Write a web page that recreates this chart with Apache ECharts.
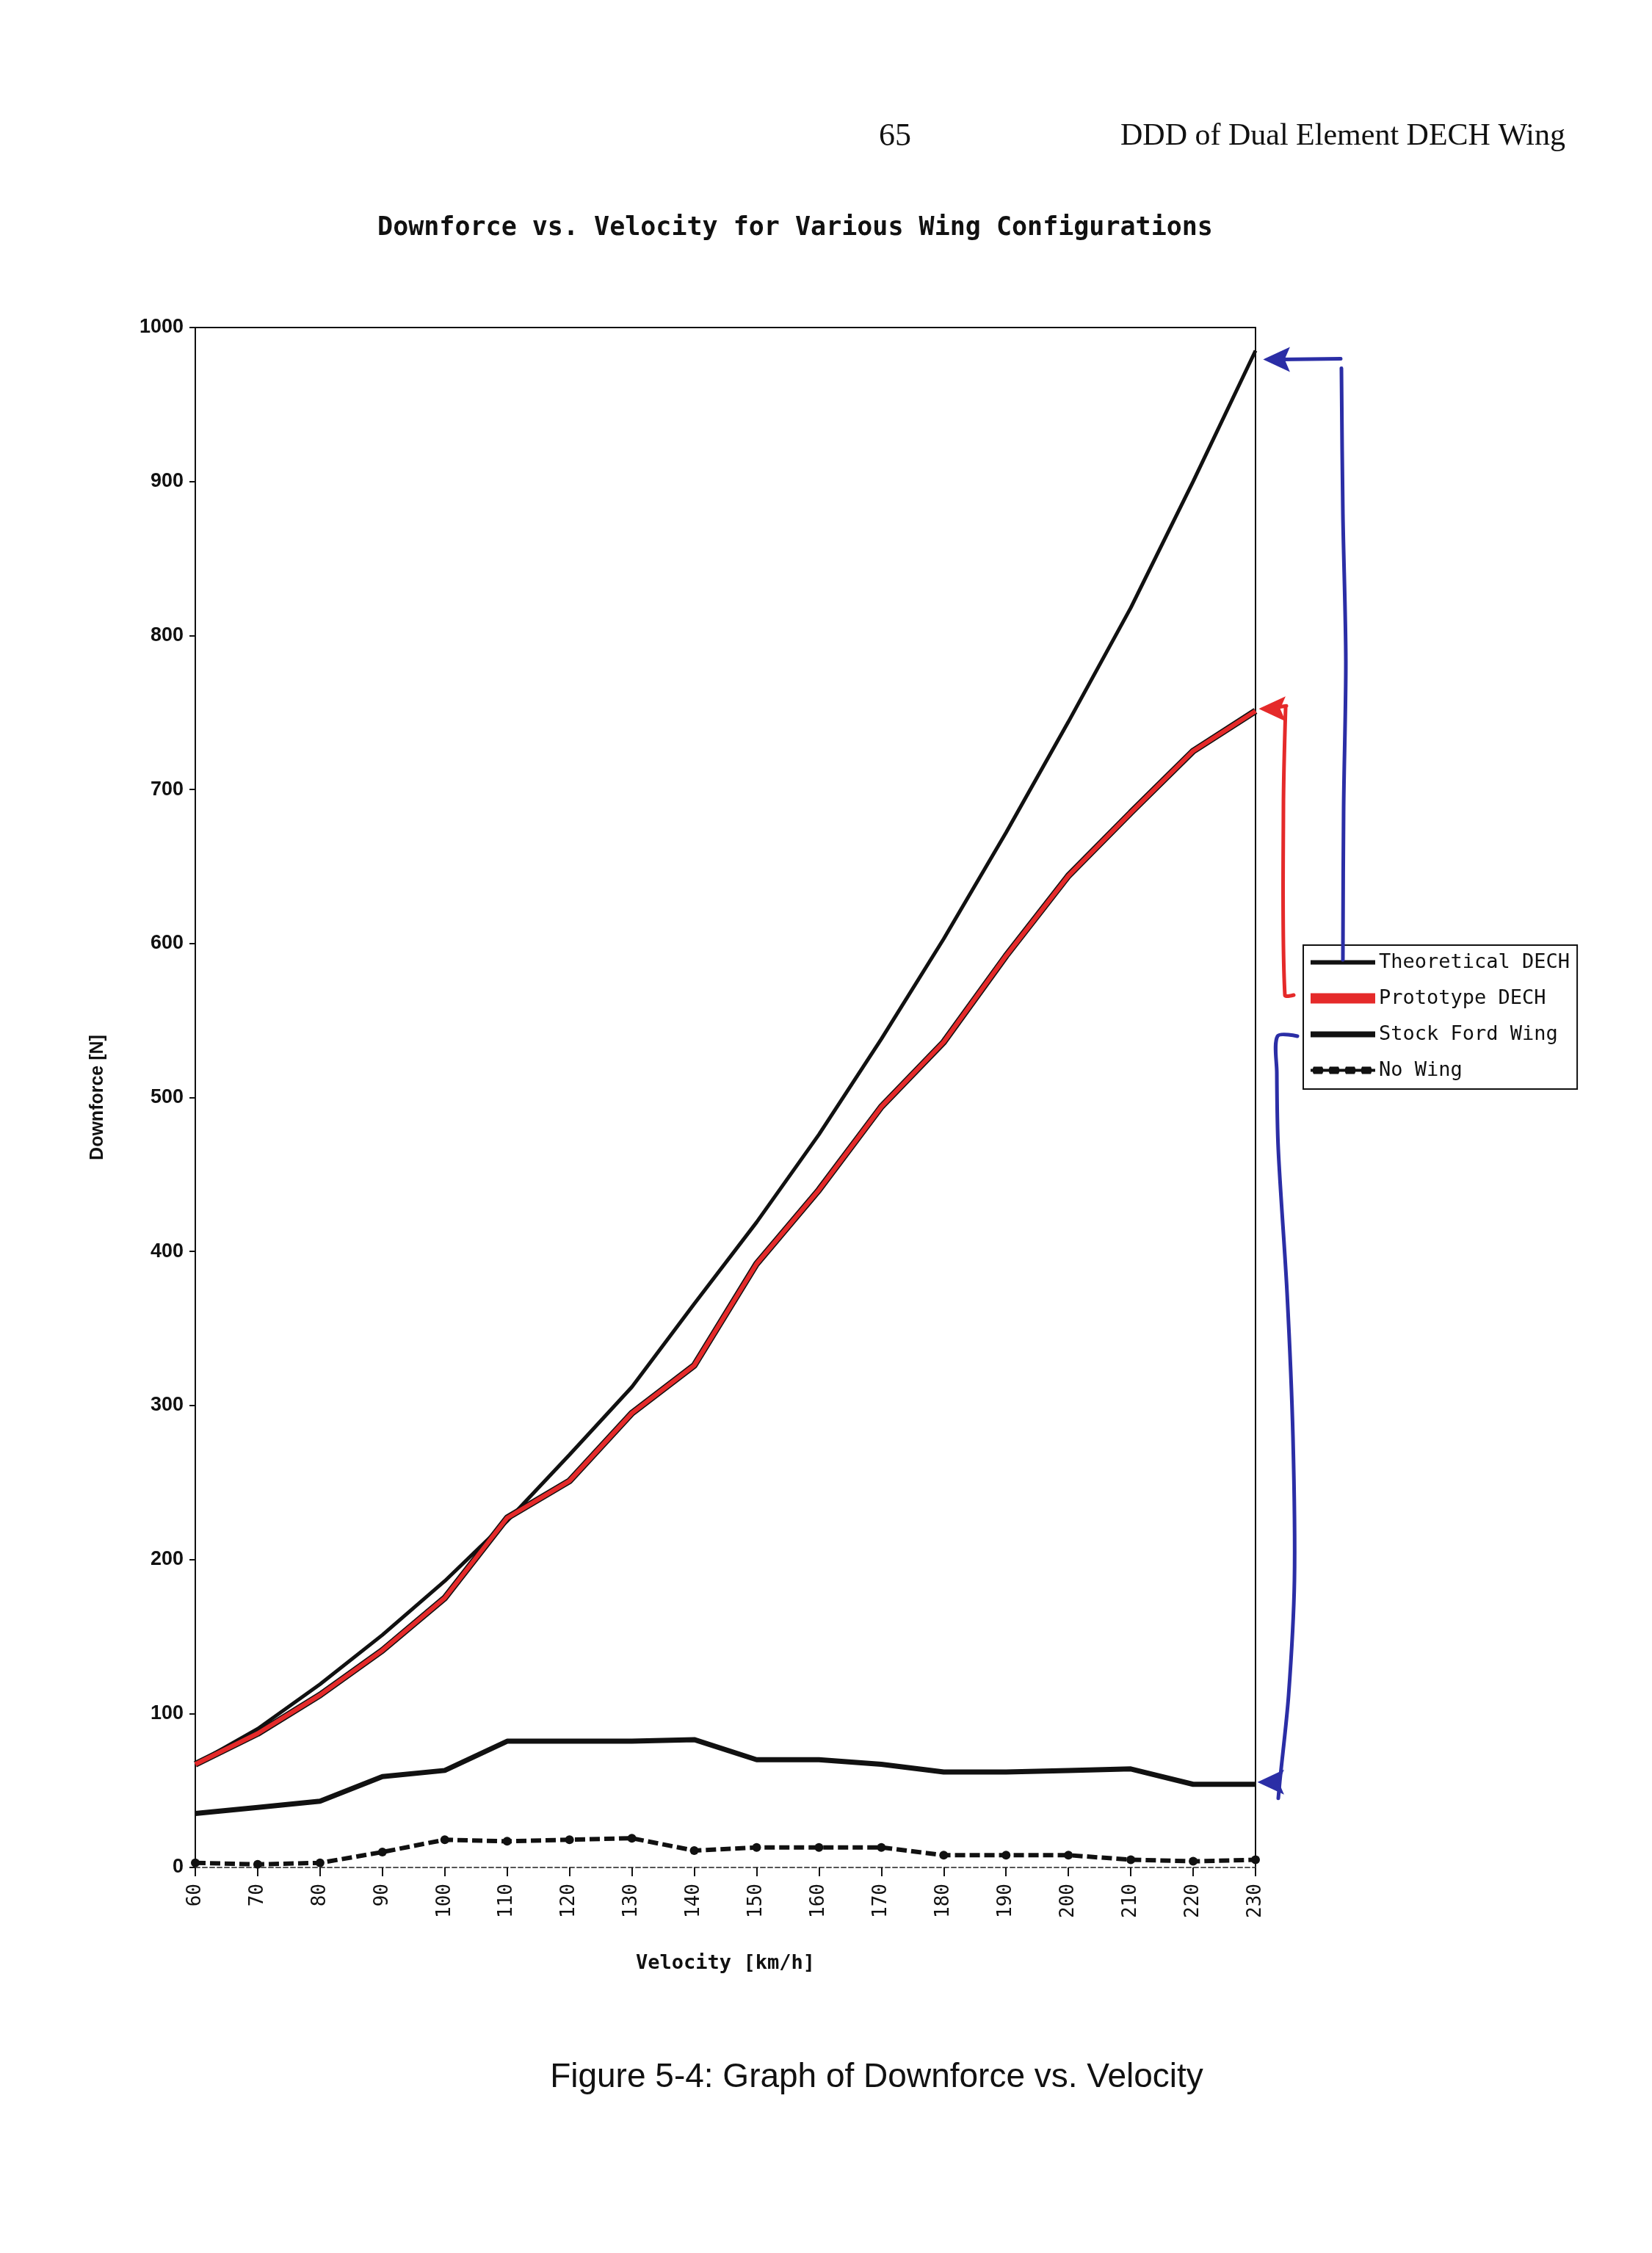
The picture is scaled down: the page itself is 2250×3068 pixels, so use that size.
<!DOCTYPE html>
<html>
<head>
<meta charset="utf-8">
<script src="https://cdn.jsdelivr.net/npm/echarts@6/dist/echarts.min.js"></script>
<style>
  html, body { margin: 0; padding: 0; background: #fff; }
  #main { width: 2250px; height: 3068px; }
</style>
</head>
<body>
<div id="main"></div>
<script>
var chartDom = document.getElementById('main');
var myChart = echarts.init(chartDom);
var option;

// velocity categories [km/h]
const velocities = ['60', '70', '80', '90', '100', '110', '120', '130', '140', '150',
                    '160', '170', '180', '190', '200', '210', '220', '230'];

// downforce [N]
const theoreticalDech = [67, 90, 119, 151, 186, 225, 268, 312, 366, 419, 476, 538, 603, 672, 744, 818, 900, 985];
const prototypeDech   = [67, 87, 112, 141, 175, 227, 251, 295, 326, 392, 440, 494, 536, 592, 644, 685, 725, 751];
const stockFordWing   = [35, 39, 43, 59, 63, 82, 82, 82, 83, 70, 70, 67, 62, 62, 63, 64, 54, 54];
const noWing          = [3, 2, 3, 10, 18, 17, 18, 19, 11, 13, 13, 13, 8, 8, 8, 5, 4, 5];

const seriesNames = ['Theoretical DECH', 'Prototype DECH', 'Stock Ford Wing', 'No Wing'];

const monoFont = '"DejaVu Sans Mono", monospace';
const blue = '#2b2ea6';
const red = '#e52a2a';

// legend line samples (88 x 24 box, the invisible moves keep the box size)
const lineIcon = function (half) {
    return 'path://M0,0 M0,' + (12 - half) + ' L88,' + (12 - half) + ' L88,' + (12 + half) + ' L0,' + (12 + half) + ' Z M88,24';
};
const blobIcon = 'path://M0,0 M0,10 L88,10 L88,14 L0,14 Z ' +
    'M4,7 L16,7 L18,12 L16,17 L4,17 L2,12 Z M26,7 L38,7 L40,12 L38,17 L26,17 L24,12 Z ' +
    'M48,7 L60,7 L62,12 L60,17 L48,17 L46,12 Z M70,7 L82,7 L84,12 L82,17 L70,17 L68,12 Z M88,24';

option = {
    backgroundColor: '#fff',
    animation: false,
    title: {
        text: 'Downforce vs. Velocity for Various Wing Configurations',
        left: 1078,
        top: 288,
        textAlign: 'center',
        textStyle: { fontFamily: monoFont, fontWeight: 'bold', fontSize: 35, color: '#111' }
    },
    legend: {
        data: [
            { name: seriesNames[0], icon: lineIcon(3) },
            { name: seriesNames[1], icon: lineIcon(7) },
            { name: seriesNames[2], icon: lineIcon(4) },
            { name: seriesNames[3], icon: blobIcon }
        ],
        orient: 'vertical',
        left: 1775,
        top: 1287,
        padding: [10, 10, 12, 10],
        itemWidth: 88,
        itemHeight: 24,
        itemGap: 22,
        borderColor: '#111',
        borderWidth: 2,
        textStyle: { fontFamily: monoFont, fontSize: 27, color: '#111', lineHeight: 24 }
    },
    grid: { left: 266, right: 540, top: 446, bottom: 525 },
    xAxis: [
        {
            type: 'category',
            data: velocities,
            boundaryGap: false,
            name: 'Velocity [km/h]',
            nameLocation: 'middle',
            nameGap: 117,
            nameTextStyle: { fontFamily: monoFont, fontWeight: 'bold', fontSize: 27, color: '#111' },
            axisLine: { show: true, lineStyle: { color: '#555', width: 2, type: [6, 4] } },
            axisTick: { show: true, interval: 0, length: 12, lineStyle: { color: '#111', width: 2 } },
            axisLabel: { interval: 0, rotate: 90, margin: 22, fontFamily: monoFont, fontSize: 26, color: '#111' },
            splitLine: { show: false }
        },
        {
            type: 'category',
            data: velocities,
            boundaryGap: false,
            position: 'top',
            axisLine: { show: true, onZero: false, lineStyle: { color: '#111', width: 2 } },
            axisTick: { show: false },
            axisLabel: { show: false },
            splitLine: { show: false }
        }
    ],
    yAxis: [
        {
            type: 'value',
            min: 0,
            max: 1000,
            interval: 100,
            name: 'Downforce [N]',
            nameLocation: 'middle',
            nameRotate: 90,
            nameGap: 120,
            nameTextStyle: { fontFamily: '"Liberation Sans", Arial', fontWeight: 'bold', fontSize: 25, color: '#111' },
            axisLine: { show: true, lineStyle: { color: '#111', width: 2 } },
            axisTick: { show: true, length: 8, lineStyle: { color: '#111', width: 2 } },
            axisLabel: {
                margin: 16, fontFamily: '"Liberation Sans", Arial', fontWeight: 'bold', fontSize: 27, color: '#111',
                formatter: function (v) { return String(v); }
            },
            splitLine: { show: false }
        },
        {
            type: 'value',
            min: 0,
            max: 1000,
            position: 'right',
            axisLine: { show: true, onZero: false, lineStyle: { color: '#111', width: 2 } },
            axisTick: { show: false },
            axisLabel: { show: false },
            splitLine: { show: false }
        }
    ],
    series: [
        {
            name: 'Theoretical DECH',
            type: 'line',
            data: theoreticalDech,
            symbol: 'none',
            z: 3,
            lineStyle: { color: '#111', width: 5 },
            itemStyle: { color: '#111' }
        },
        {
            name: 'Prototype DECH',
            type: 'line',
            data: prototypeDech,
            symbol: 'none',
            z: 5,
            lineStyle: { color: red, width: 6 },
            itemStyle: { color: red }
        },
        {
            // black trace under the red marker
            name: 'Prototype trace',
            type: 'line',
            data: prototypeDech,
            symbol: 'none',
            z: 4,
            lineStyle: { color: '#111', width: 9 },
            itemStyle: { color: '#111' }
        },
        {
            name: 'Stock Ford Wing',
            type: 'line',
            data: stockFordWing,
            symbol: 'none',
            z: 3,
            lineStyle: { color: '#111', width: 7 },
            itemStyle: { color: '#111' }
        },
        {
            name: 'No Wing',
            type: 'line',
            data: noWing,
            symbol: 'circle',
            symbolSize: 12,
            showSymbol: true,
            z: 3,
            lineStyle: { color: '#111', width: 6, type: [14, 6] },
            itemStyle: { color: '#111' }
        }
    ]
};

myChart.setOption(option);

// annotations (hand-drawn arrows) anchored to the series end points
const last = velocities.length - 1;
const pTheo = myChart.convertToPixel({ seriesIndex: 0 }, [last, theoreticalDech[last]]);
const pProto = myChart.convertToPixel({ seriesIndex: 1 }, [last, prototypeDech[last]]);
const pStock = myChart.convertToPixel({ seriesIndex: 3 }, [last, stockFordWing[last]]);

function arrowHead(tx, ty, color) {
    return {
        type: 'polygon',
        shape: { points: [[tx, ty], [tx + 30, ty - 14], [tx + 24, ty], [tx + 30, ty + 14]] },
        style: { fill: color, stroke: color, lineWidth: 3 },
        z: 20
    };
}

function pen(points, color) {
    return {
        type: 'polyline',
        shape: { points: points, smooth: 0.3 },
        style: { stroke: color, lineWidth: 5, lineCap: 'round', lineJoin: 'round', fill: null },
        z: 20
    };
}

function label(x, y, text, font, align) {
    return {
        type: 'text',
        x: x,
        y: y,
        style: {
            text: text, font: font, fill: '#111',
            align: align, textAlign: align,
            verticalAlign: 'middle', textVerticalAlign: 'middle'
        },
        z: 20
    };
}

const tTheo = [pTheo[0] + 14, pTheo[1] + 12];
const tProto = [pProto[0] + 8, pProto[1] - 3];
const tStock = [pStock[0] + 6, pStock[1] - 3];

const graphics = [
    label(1219, 186, '65', '44px "Liberation Serif", serif', 'center'),
    label(1526, 186, 'DDD of Dual Element DECH Wing', '42px "Liberation Serif", serif', 'left'),
    label(1194, 2829, 'Figure 5-4: Graph of Downforce vs. Velocity', '46px "Liberation Sans", Arial', 'center'),

    // theoretical arrow (blue)
    arrowHead(tTheo[0], tTheo[1], blue),
    pen([[tTheo[0] + 20, tTheo[1]], [1826, tTheo[1] - 1]], blue),
    pen([[1827, tTheo[1] + 12], [1829, 700], [1833, 900], [1830, 1100], [1829, 1307]], blue),

    // prototype arrow (red)
    arrowHead(tProto[0], tProto[1], red),
    pen([[tProto[0] + 20, tProto[1] - 2], [1752, tProto[1] - 4]], red),
    pen([[1751, tProto[1] - 2], [1748, 1100], [1750, 1355], [1762, 1355]], red),

    // stock ford bracket (blue)
    pen([[1767, 1411], [1740, 1411], [1739, 1460], [1741, 1565], [1753, 1761], [1761, 1957],
         [1763, 2152], [1755, 2309], [1743, tStock[1]], [1741, tStock[1] + 22]], blue),
    arrowHead(tStock[0], tStock[1], blue)
];

myChart.setOption({ graphic: graphics });
</script>
</body>
</html>
